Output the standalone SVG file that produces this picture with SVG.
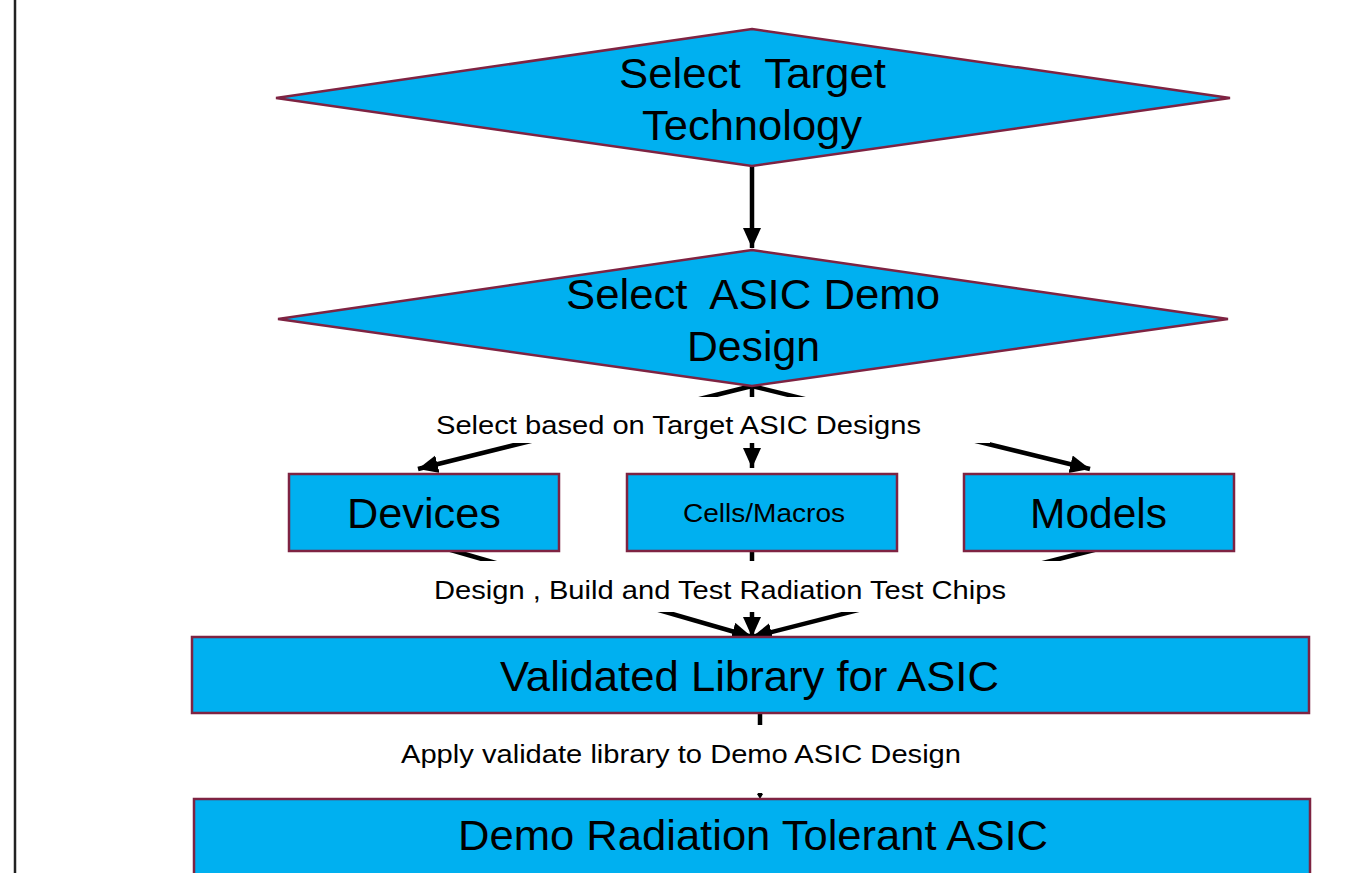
<svg xmlns="http://www.w3.org/2000/svg" width="1356" height="873" viewBox="0 0 1356 873">
<style>
.node{fill:#00B0F0;stroke:#7E2342;stroke-width:2.5}
.t{font-family:"Liberation Sans",Arial,sans-serif;fill:#000;text-anchor:middle;white-space:pre}
.big{font-size:43px}
.lbl{font-size:26px}
.c{stroke:#000;stroke-width:4.5;fill:none}
.bg{fill:#fff}
</style>
<defs>
<marker id="ah" markerUnits="userSpaceOnUse" markerWidth="22" markerHeight="20" refX="20" refY="9" orient="auto">
<path d="M0,0 L20,9 L0,18 z" fill="#000"/>
</marker>
</defs>
<rect width="1356" height="873" fill="#fff"/>
<line x1="15" y1="0" x2="15" y2="873" stroke="#222" stroke-width="2.5"/>

<g id="connectors">
<line class="c" x1="752" y1="166" x2="752" y2="248" marker-end="url(#ah)"/>
<line class="c" x1="752" y1="386" x2="418" y2="469" marker-end="url(#ah)"/>
<line class="c" x1="752" y1="386" x2="752" y2="468" marker-end="url(#ah)"/>
<line class="c" x1="752" y1="386" x2="1090" y2="469" marker-end="url(#ah)"/>
<line class="c" x1="437" y1="546" x2="752" y2="637" marker-end="url(#ah)"/>
<line class="c" x1="752" y1="551" x2="752" y2="637" marker-end="url(#ah)"/>
<line class="c" x1="1098" y1="549" x2="752" y2="637" marker-end="url(#ah)"/>
<line class="c" x1="760" y1="713" x2="760" y2="795"/>
<polygon points="757,794 763,794 760,799" fill="#000"/>
</g>

<g id="label-select">
<rect class="bg" x="420" y="397" width="570" height="46"/>
<text class="t lbl" x="678.5" y="434" textLength="485" lengthAdjust="spacingAndGlyphs">Select based on Target ASIC Designs</text>
</g>
<g id="label-design">
<rect class="bg" x="420" y="561" width="640" height="51"/>
<text class="t lbl" x="720" y="599" textLength="572" lengthAdjust="spacingAndGlyphs">Design , Build and Test Radiation Test Chips</text>
</g>
<g id="label-apply">
<rect class="bg" x="390" y="725" width="590" height="68"/>
<text class="t lbl" x="681" y="763" textLength="560" lengthAdjust="spacingAndGlyphs">Apply validate library to Demo ASIC Design</text>
</g>

<g id="n-target">
<polygon class="node" points="752,29 1230,98 752,166 276,98"/>
<text class="t big" x="752.5" y="88" textLength="267" lengthAdjust="spacingAndGlyphs">Select  Target</text>
<text class="t big" x="752" y="140" textLength="220" lengthAdjust="spacingAndGlyphs">Technology</text>
</g>
<g id="n-asic">
<polygon class="node" points="752,250 1228,319 752,386 278,319"/>
<text class="t big" x="753" y="309" textLength="374" lengthAdjust="spacingAndGlyphs">Select  ASIC Demo</text>
<text class="t big" x="753.5" y="361" textLength="133" lengthAdjust="spacingAndGlyphs">Design</text>
</g>
<g id="n-devices">
<rect class="node" x="289" y="474" width="270" height="77"/>
<text class="t big" x="424" y="528" textLength="154" lengthAdjust="spacingAndGlyphs">Devices</text>
</g>
<g id="n-cells">
<rect class="node" x="627" y="474" width="270" height="77"/>
<text class="t lbl" x="764" y="522" textLength="162" lengthAdjust="spacingAndGlyphs">Cells/Macros</text>
</g>
<g id="n-models">
<rect class="node" x="964" y="474" width="270" height="77"/>
<text class="t big" x="1098.5" y="528" textLength="137" lengthAdjust="spacingAndGlyphs">Models</text>
</g>
<g id="n-validated">
<rect class="node" x="192" y="637" width="1117" height="76"/>
<text class="t big" x="749.5" y="691" textLength="499" lengthAdjust="spacingAndGlyphs">Validated Library for ASIC</text>
</g>
<g id="n-demo">
<rect class="node" x="194" y="799" width="1116" height="80"/>
<text class="t big" x="753" y="850" textLength="590" lengthAdjust="spacingAndGlyphs">Demo Radiation Tolerant ASIC</text>
</g>
</svg>
